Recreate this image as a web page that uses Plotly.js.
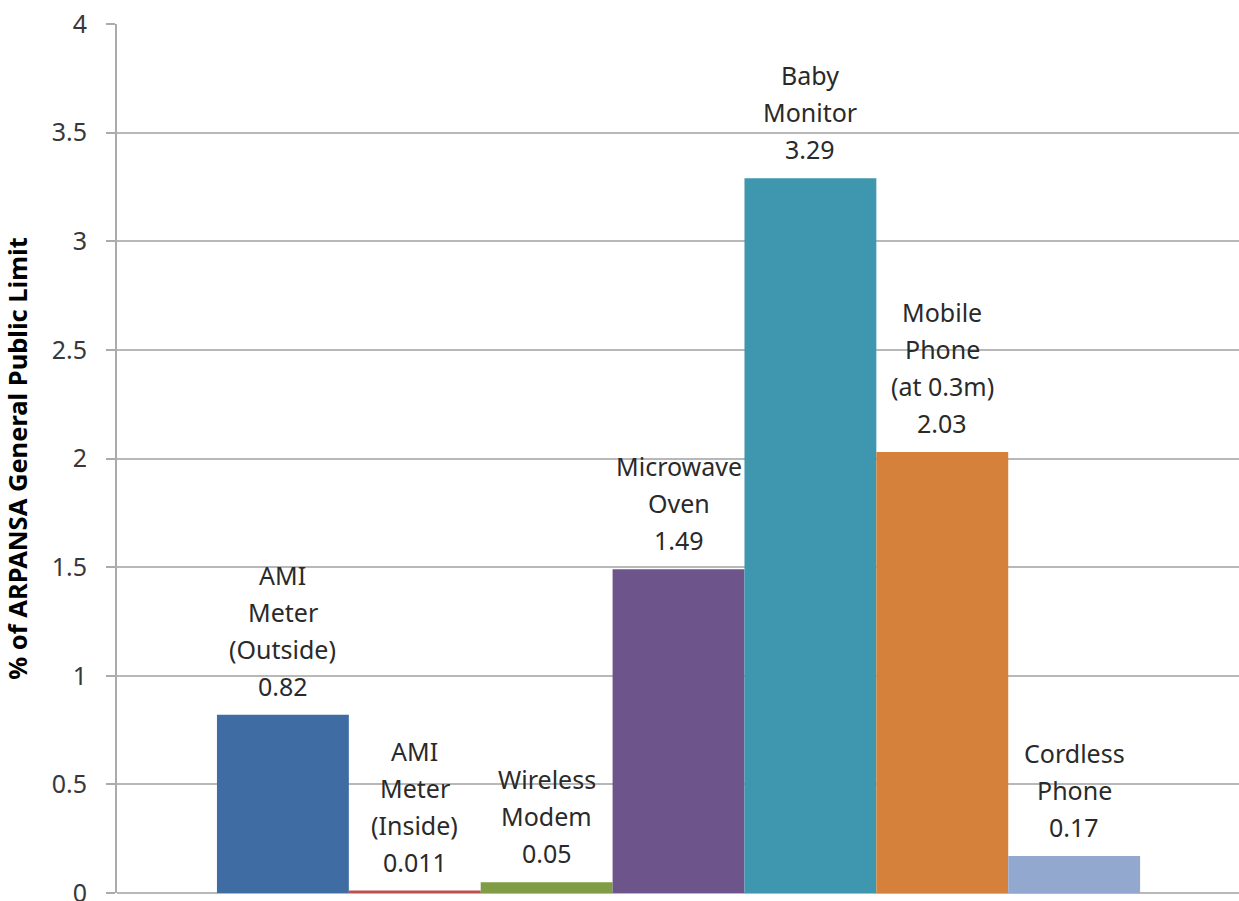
<!DOCTYPE html>
<html>
<head>
<meta charset="utf-8">
<script src="https://cdn.plot.ly/plotly-3.0.1.min.js"></script>
<style>
  html, body { margin: 0; padding: 0; background: #ffffff; }
  #chart { width: 1239px; height: 901px; }
</style>
</head>
<body>
<div id="chart"></div>
<script>
// Device categories (multi-line names) and their exposure values
var devices = [
  'AMI\nMeter\n(Outside)',
  'AMI\nMeter\n(Inside)',
  'Wireless\nModem',
  'Microwave\nOven',
  'Baby\nMonitor',
  'Mobile\nPhone\n(at 0.3m)',
  'Cordless\nPhone'
];
var percentOfLimit = [0.82, 0.011, 0.05, 1.49, 3.29, 2.03, 0.17];
var barColors = ['#3f6ca2', '#c0504d', '#7e9d45', '#6d548b', '#3f96af', '#d6813b', '#93a8cf'];
var yTicks = [0, 0.5, 1, 1.5, 2, 2.5, 3, 3.5, 4];
var yTickText = ['0', '0.5', '1', '1.5', '2', '2.5', '3', '3.5', '4'];

var positions = devices.map(function (_, i) { return i + 1; });

var labelFont = { family: 'Noto Sans, Open Sans, sans-serif', size: 25, color: '#2a2a2a' };

// Stacked text lines above each bar: value on the bottom line, name lines above
var annotations = [];
devices.forEach(function (name, i) {
  var lines = name.split('\n');
  lines.push(String(percentOfLimit[i]));
  var n = lines.length;
  lines.forEach(function (line, k) {
    var fromBottom = n - 1 - k;
    annotations.push({
      x: positions[i],
      y: percentOfLimit[i],
      xref: 'x',
      yref: 'y',
      text: line,
      showarrow: false,
      xanchor: 'center',
      yanchor: 'middle',
      yshift: 29 + 37 * fromBottom,
      font: labelFont
    });
  });
});

var trace = {
  type: 'bar',
  x: positions,
  y: percentOfLimit,
  width: 1,
  marker: { color: barColors, line: { width: 0 } },
  hoverinfo: 'skip'
};

var layout = {
  width: 1239,
  height: 901,
  margin: { l: 117, r: 0, t: 24, b: 8 },
  paper_bgcolor: '#ffffff',
  plot_bgcolor: '#ffffff',
  showlegend: false,
  xaxis: {
    range: [-0.258, 8.25],
    showticklabels: false,
    showgrid: false,
    zeroline: false,
    showline: false,
    ticks: ''
  },
  yaxis: {
    range: [0, 4],
    tickvals: yTicks,
    ticktext: yTickText,
    showgrid: true,
    gridcolor: '#b8b8b8',
    gridwidth: 2,
    zeroline: true,
    zerolinecolor: '#b8b8b8',
    zerolinewidth: 2,
    showline: true,
    linecolor: '#ababab',
    linewidth: 2,
    ticks: 'outside',
    ticklen: 9,
    tickwidth: 2,
    tickcolor: '#ababab',
    ticklabelstandoff: 14,
    ticklabeloverflow: 'allow',
    tickfont: { family: 'Noto Sans, Open Sans, sans-serif', size: 25, color: '#383838' },
    title: {
      text: '<b>% of ARPANSA General Public Limit</b>',
      font: { family: 'Noto Sans, Open Sans, sans-serif', size: 25.5, color: '#000000' },
      standoff: 18
    }
  },
  annotations: annotations
};

Plotly.newPlot('chart', [trace], layout, { staticPlot: true, displayModeBar: false });
</script>
</body>
</html>
